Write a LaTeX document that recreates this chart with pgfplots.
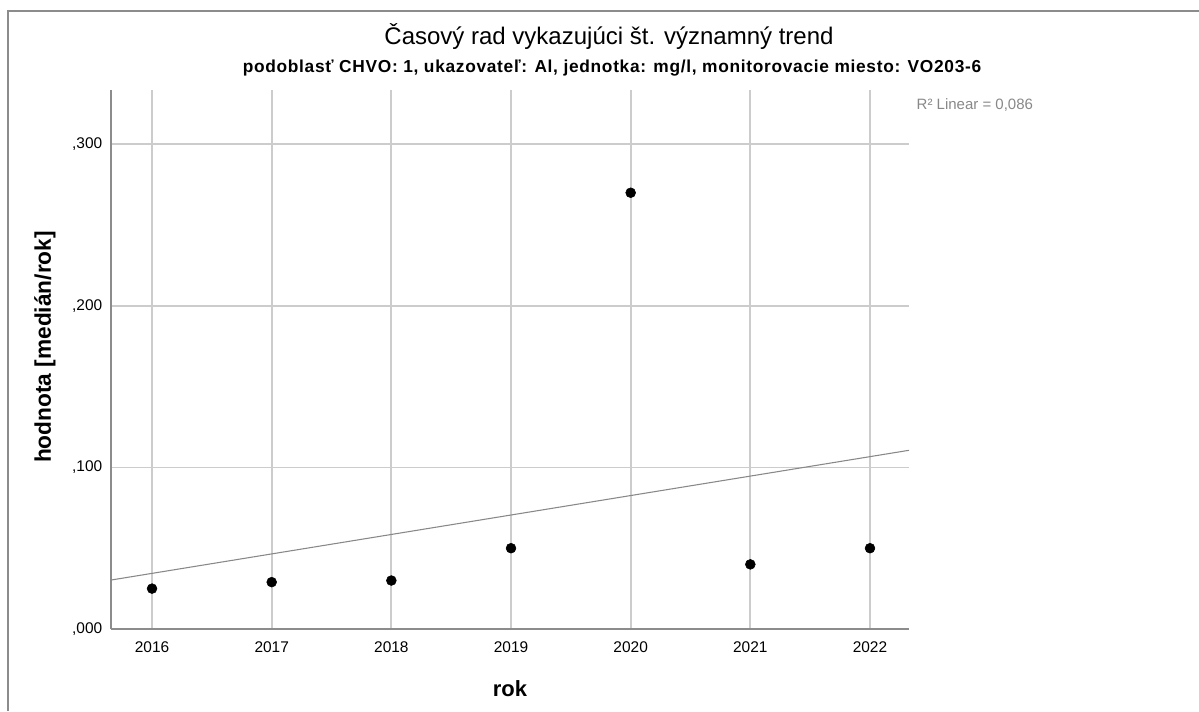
\documentclass[border=0pt]{standalone}
\usepackage{fontspec}
\setmainfont{Liberation Sans}
\usepackage{pgfplots}
\pgfplotsset{compat=1.18}
\definecolor{gridc}{HTML}{CCCCCC}
\definecolor{axc}{HTML}{8C8C8C}
\definecolor{fitc}{HTML}{888888}
\begin{document}
\begin{tikzpicture}[x=0.75pt,y=0.75pt]
\useasboundingbox (0,0) rectangle (1199,711);
% outer frame (top and left)
\draw[axc,line width=0.9pt] (8,0) -- (8,700) -- (1199,700);
\begin{axis}[
  at={(83.25pt,61.5pt)}, anchor=south west,
  scale only axis, width=598.5pt, height=404.25pt,
  xmin=2015.657, xmax=2022.326, ymin=0, ymax=0.3336,
  axis lines*=left, axis line style={axc,line width=1.4pt,-},
  xtick={2016,2017,2018,2019,2020,2021,2022},
  xticklabels={2016,2017,2018,2019,2020,2021,2022},
  ytick={0,0.1,0.2,0.3},
  yticklabels={{,000},{,100},{,200},{,300}},
  major tick length=0pt,
  grid=major, major grid style={gridc,line width=1.3pt},
  tick label style={font=\fontsize{11.6pt}{13pt}\selectfont, text=black},
  /pgf/number format/assume math mode=true,
  xticklabel style={yshift=-6pt},
  yticklabel style={xshift=-3pt},
  clip=false,
]
\addplot[fitc, line width=0.8pt] coordinates {(2015.657,0.0303) (2022.326,0.1106)};
\addplot[only marks, mark=*, mark size=3.7pt, mark options={fill=black,draw=black}] coordinates {
(2016,0.025) (2017,0.029) (2018,0.030) (2019,0.050) (2020,0.270) (2021,0.040) (2022,0.050)};
\end{axis}
\node[font=\fontsize{18pt}{21pt}\selectfont] at (609,674) {Časový rad vykazujúci št. významný trend};
\node[font=\bfseries\fontsize{13pt}{15pt}\selectfont\addfontfeature{LetterSpace=4}] at (612,643) {podoblasť CHVO: 1, ukazovateľ: Al, jednotka: mg/l, monitorovacie miesto: VO203-6};
\node[font=\fontsize{11.25pt}{13pt}\selectfont, text=fitc, anchor=west] at (912,606) {R² Linear = 0,086};
\node[font=\bfseries\fontsize{17pt}{19pt}\selectfont, rotate=90] at (45,364) {hodnota [medián/rok]};
\node[font=\bfseries\fontsize{16.5pt}{19pt}\selectfont] at (510,22) {rok};
\end{tikzpicture}
\end{document}
